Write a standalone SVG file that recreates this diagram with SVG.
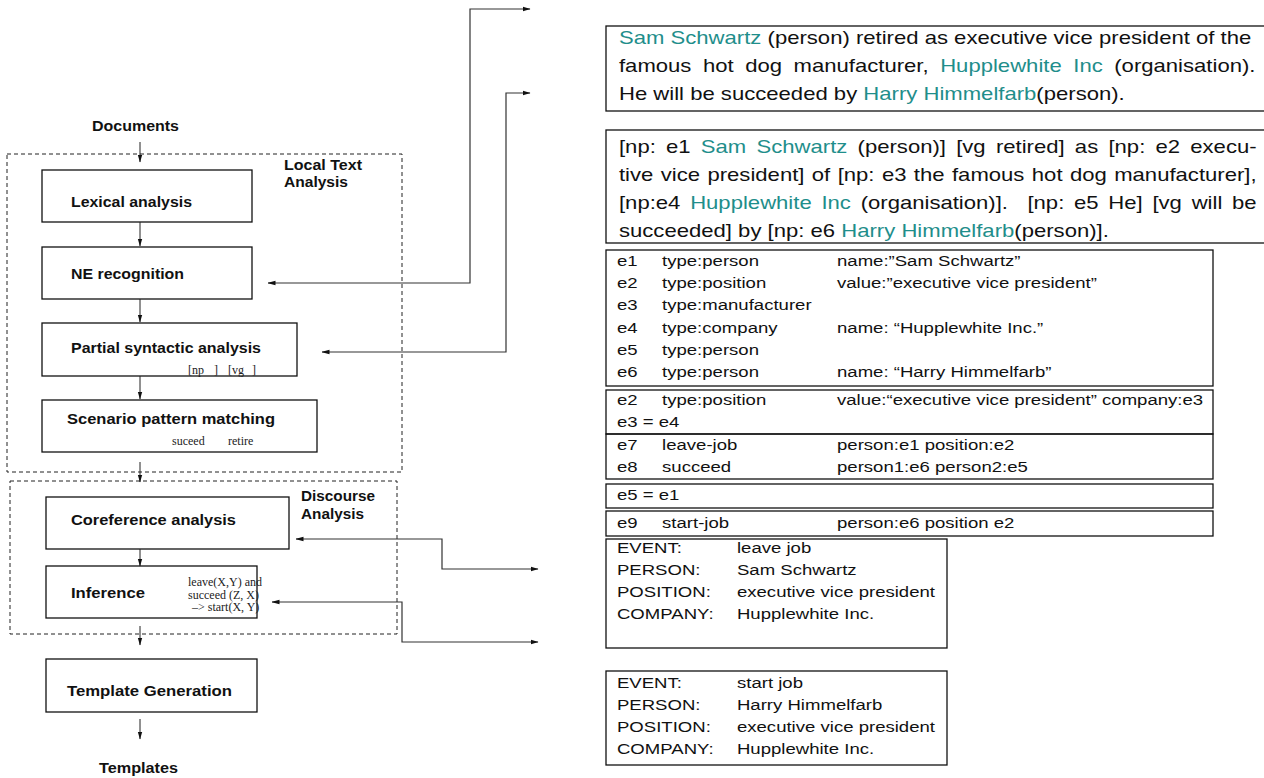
<svg xmlns="http://www.w3.org/2000/svg" width="1264" height="778" viewBox="0 0 1264 778">
<defs>
  <marker id="arrow" viewBox="0 0 8 6" refX="7.5" refY="3" markerWidth="8" markerHeight="6" markerUnits="userSpaceOnUse" orient="auto-start-reverse">
    <path d="M0,0.7 L8,3 L0,5.3 z" fill="#111"/>
  </marker>
</defs>
<style>
  .box{fill:none;stroke:#111;stroke-width:1.3}
  .grp{fill:none;stroke:#222;stroke-width:1;stroke-dasharray:4 3}
  .lbl{font-family:"Liberation Sans",Arial,sans-serif;font-weight:bold;font-size:15px;fill:#111}
  .note{font-family:"Liberation Serif","Times New Roman",serif;font-size:12px;fill:#222}
  .flow{fill:none;stroke:#222;stroke-width:1}
  .link{fill:none;stroke:#333;stroke-width:1.2}
  .txt{font-family:"Liberation Sans",Arial,sans-serif;font-size:17.5px;fill:#111}
  .tab{font-family:"Liberation Sans",Arial,sans-serif;font-size:14.7px;fill:#111}
  .ne{fill:#1f8e8b}
</style>
<rect width="1264" height="778" fill="#fff"/>

<!-- pipeline stages -->
<g id="documents"><text class="lbl" x="92" y="131" textLength="87" lengthAdjust="spacingAndGlyphs">Documents</text></g>

<g id="local-text-analysis">
  <rect class="grp" x="7" y="154" width="395" height="318"/>
  <text class="lbl" x="284" y="170" textLength="78" lengthAdjust="spacingAndGlyphs">Local Text</text>
  <text class="lbl" x="284" y="187" textLength="64" lengthAdjust="spacingAndGlyphs">Analysis</text>
</g>
<g id="lexical">
  <rect class="box" x="42" y="170" width="210" height="52"/>
  <text class="lbl" x="71" y="207" textLength="121" lengthAdjust="spacingAndGlyphs">Lexical analysis</text>
</g>
<g id="ne-recognition">
  <rect class="box" x="42" y="247" width="210" height="52"/>
  <text class="lbl" x="71" y="279" textLength="113" lengthAdjust="spacingAndGlyphs">NE recognition</text>
</g>
<g id="partial-syntactic">
  <rect class="box" x="42" y="323" width="255" height="53"/>
  <text class="lbl" x="71" y="353" textLength="190" lengthAdjust="spacingAndGlyphs">Partial syntactic analysis</text>
  <text class="note" y="374"><tspan x="188">[np</tspan><tspan x="214">]</tspan><tspan x="228">[vg</tspan><tspan x="252">]</tspan></text>
</g>
<g id="scenario-matching">
  <rect class="box" x="42" y="400" width="275" height="52"/>
  <text class="lbl" x="67" y="424" textLength="208" lengthAdjust="spacingAndGlyphs">Scenario pattern matching</text>
  <text class="note" y="445"><tspan x="172">suceed</tspan><tspan x="228">retire</tspan></text>
</g>

<g id="discourse-analysis">
  <rect class="grp" x="10" y="481" width="387" height="153"/>
  <text class="lbl" x="301" y="501" textLength="74" lengthAdjust="spacingAndGlyphs">Discourse</text>
  <text class="lbl" x="301" y="519" textLength="63" lengthAdjust="spacingAndGlyphs">Analysis</text>
</g>
<g id="coreference">
  <rect class="box" x="46" y="497" width="243" height="52"/>
  <text class="lbl" x="71" y="525" textLength="165" lengthAdjust="spacingAndGlyphs">Coreference analysis</text>
</g>
<g id="inference">
  <rect class="box" x="46" y="566" width="211" height="52"/>
  <text class="lbl" x="71" y="598" textLength="74" lengthAdjust="spacingAndGlyphs">Inference</text>
  <text class="note" x="188" y="586">leave(X,Y) and</text>
  <text class="note" x="188" y="599">succeed (Z, X)</text>
  <text class="note" x="192" y="611">–&gt; start(X, Y)</text>
</g>
<g id="template-generation">
  <rect class="box" x="46" y="659" width="211" height="53"/>
  <text class="lbl" x="67" y="696" textLength="165" lengthAdjust="spacingAndGlyphs">Template Generation</text>
</g>
<g id="templates"><text class="lbl" x="99" y="773" textLength="79" lengthAdjust="spacingAndGlyphs">Templates</text></g>

<!-- example panels -->
<g id="sentence">
  <rect class="box" x="606" y="26" width="662" height="85"/>
  <g transform="matrix(1.263,0,0,1,0,0)" class="txt">
    <text x="490.1" y="44"><tspan class="ne">Sam Schwartz</tspan> (person) retired as executive vice president of the</text>
    <text x="490.1" y="72" word-spacing="4.27">famous hot dog manufacturer, <tspan class="ne">Hupplewhite Inc</tspan> (organisation).</text>
    <text x="490.1" y="100">He will be succeeded by <tspan class="ne">Harry Himmelfarb</tspan>(person).</text>
  </g>
</g>
<g id="chunked-sentence">
  <rect class="box" x="606" y="130" width="662" height="113"/>
  <g transform="matrix(1.263,0,0,1,0,0)" class="txt">
    <text x="490.1" y="153" word-spacing="3.24">[np: e1 <tspan class="ne">Sam Schwartz</tspan> (person)] [vg retired] as [np: e2 execu-</text>
    <text x="490.1" y="181" word-spacing="1.0">tive vice president] of [np: e3 the famous hot dog manufacturer],</text>
    <text x="490.1" y="209" word-spacing="2.85">[np:e4 <tspan class="ne">Hupplewhite Inc</tspan> (organisation)].&#160; [np: e5 He] [vg will be</text>
    <text x="490.1" y="237">succeeded] by [np: e6 <tspan class="ne">Harry Himmelfarb</tspan>(person)].</text>
  </g>
</g>
<g id="entities">
  <rect class="box" x="606" y="250" width="607" height="136"/>
  <g transform="matrix(1.263,0,0,1,0,0)" class="tab">
    <text y="266"><tspan x="488.5">e1</tspan><tspan x="524.2">type:person</tspan><tspan x="662.7">name:”Sam Schwartz”</tspan></text>
    <text y="288"><tspan x="488.5">e2</tspan><tspan x="524.2">type:position</tspan><tspan x="662.7">value:”executive vice president”</tspan></text>
    <text y="310.5"><tspan x="488.5">e3</tspan><tspan x="524.2">type:manufacturer</tspan></text>
    <text y="333"><tspan x="488.5">e4</tspan><tspan x="524.2">type:company</tspan><tspan x="662.7">name: “Hupplewhite Inc.”</tspan></text>
    <text y="355"><tspan x="488.5">e5</tspan><tspan x="524.2">type:person</tspan></text>
    <text y="377"><tspan x="488.5">e6</tspan><tspan x="524.2">type:person</tspan><tspan x="662.7">name: “Harry Himmelfarb”</tspan></text>
  </g>
</g>
<g id="position-merge">
  <rect class="box" x="606" y="390" width="607" height="44"/>
  <g transform="matrix(1.263,0,0,1,0,0)" class="tab">
    <text y="405"><tspan x="488.5">e2</tspan><tspan x="524.2">type:position</tspan><tspan x="662.7">value:“executive vice president” company:e3</tspan></text>
    <text x="488.5" y="427">e3 = e4</text>
  </g>
</g>
<g id="events">
  <rect class="box" x="606" y="434" width="607" height="45"/>
  <g transform="matrix(1.263,0,0,1,0,0)" class="tab">
    <text y="450"><tspan x="488.5">e7</tspan><tspan x="524.2">leave-job</tspan><tspan x="662.7">person:e1 position:e2</tspan></text>
    <text y="472"><tspan x="488.5">e8</tspan><tspan x="524.2">succeed</tspan><tspan x="662.7">person1:e6 person2:e5</tspan></text>
  </g>
</g>
<g id="coref-result">
  <rect class="box" x="606" y="484" width="607" height="24"/>
  <g transform="matrix(1.263,0,0,1,0,0)" class="tab"><text x="488.5" y="500">e5 = e1</text></g>
</g>
<g id="inferred-event">
  <rect class="box" x="606" y="511" width="607" height="25"/>
  <g transform="matrix(1.263,0,0,1,0,0)" class="tab">
    <text y="528"><tspan x="488.5">e9</tspan><tspan x="524.2">start-job</tspan><tspan x="662.7">person:e6 position e2</tspan></text>
  </g>
</g>
<g id="template-leave">
  <rect class="box" x="606" y="539" width="341" height="109"/>
  <g transform="matrix(1.263,0,0,1,0,0)" class="tab">
    <text y="553"><tspan x="488.5">EVENT:</tspan><tspan x="583.5">leave job</tspan></text>
    <text y="575"><tspan x="488.5">PERSON:</tspan><tspan x="583.5">Sam Schwartz</tspan></text>
    <text y="597"><tspan x="488.5">POSITION:</tspan><tspan x="583.5">executive vice president</tspan></text>
    <text y="619"><tspan x="488.5">COMPANY:</tspan><tspan x="583.5">Hupplewhite Inc.</tspan></text>
  </g>
</g>
<g id="template-start">
  <rect class="box" x="606" y="671" width="341" height="94"/>
  <g transform="matrix(1.263,0,0,1,0,0)" class="tab">
    <text y="688"><tspan x="488.5">EVENT:</tspan><tspan x="583.5">start job</tspan></text>
    <text y="710"><tspan x="488.5">PERSON:</tspan><tspan x="583.5">Harry Himmelfarb</tspan></text>
    <text y="732"><tspan x="488.5">POSITION:</tspan><tspan x="583.5">executive vice president</tspan></text>
    <text y="754"><tspan x="488.5">COMPANY:</tspan><tspan x="583.5">Hupplewhite Inc.</tspan></text>
  </g>
</g>

<!-- connectors -->
<g id="connectors">
  <g class="flow" marker-end="url(#arrow)">
    <line x1="140" y1="142" x2="140" y2="162"/>
    <line x1="140" y1="222" x2="140" y2="246"/>
    <line x1="140" y1="299" x2="140" y2="322"/>
    <line x1="140" y1="376" x2="140" y2="399"/>
    <line x1="140" y1="462" x2="140" y2="482"/>
    <line x1="140" y1="549" x2="140" y2="566"/>
    <line x1="140" y1="626" x2="140" y2="645"/>
    <line x1="140" y1="719" x2="140" y2="739"/>
  </g>
  <g class="link" marker-start="url(#arrow)" marker-end="url(#arrow)">
    <polyline points="268,283 470,283 470,9 530,9"/>
    <polyline points="322,352 506,352 506,93 530,93"/>
    <polyline points="296,539 442,539 442,569 538,569"/>
    <polyline points="272,602 402,602 402,642 538,642"/>
  </g>
</g>
</svg>
